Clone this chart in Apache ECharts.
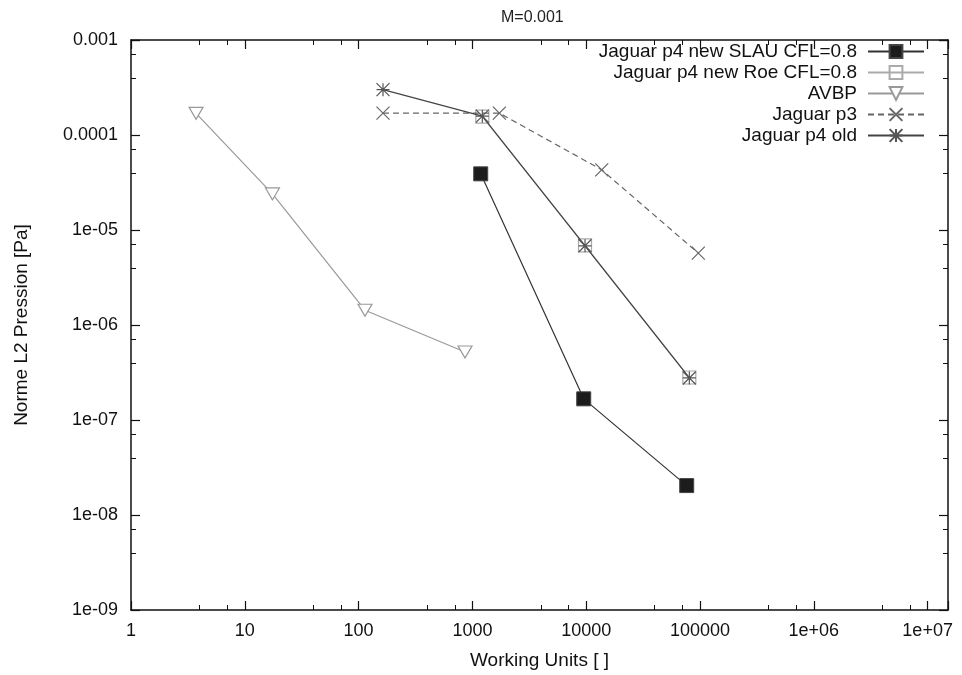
<!DOCTYPE html>
<html>
<head>
<meta charset="utf-8">
<script src="https://cdn.jsdelivr.net/npm/echarts@6/dist/echarts.min.js"></script>
<style>html,body{margin:0;padding:0;background:#fff}#c{width:962px;height:675px}</style>
</head>
<body>
<div id="c"></div>
<script>
// ---- data ----
const seriesNames = ['Jaguar p4 new SLAU CFL=0.8', 'Jaguar p4 new Roe CFL=0.8', 'AVBP', 'Jaguar p3', 'Jaguar p4 old'];
const slauX = [1183, 9508, 76400];
const slauY = [3.9e-5, 1.67e-7, 2.04e-8];
const roeX = [1222, 9758, 80560];
const roeY = [1.56e-4, 6.9e-6, 2.8e-7];
const avbpX = [3.73, 17.5, 113.8, 861];
const avbpY = [1.69e-4, 2.40e-5, 1.43e-6, 5.2e-7];
const p3X = [163.8, 1725, 13680, 96600];
const p3Y = [1.70e-4, 1.70e-4, 4.30e-5, 5.71e-6];
const p4oldX = [163.8, 1222, 9758, 80560];
const p4oldY = [3.0e-4, 1.58e-4, 6.82e-6, 2.77e-7];
const xTickLabels = ['1', '10', '100', '1000', '10000', '100000', '1e+06', '1e+07'];
const yTickLabels = ['1e-09', '1e-08', '1e-07', '1e-06', '1e-05', '0.0001', '0.001'];
const titleText = 'M=0.001';
const xName = 'Working Units [ ]';
const yName = 'Norme L2 Pression [Pa]';

function pairs(xs, ys) { return xs.map((x, i) => [x, ys[i]]); }
function fmt(labels, offset) {
  return function (v) {
    const l = Math.log10(v);
    const e = Math.round(l);
    if (Math.abs(l - e) > 1e-6) return '';
    const s = labels[e + offset];
    return s === undefined ? '' : s;
  };
}

const FONT = 'Liberation Sans, Arial, Helvetica, sans-serif';
const XMIN = 1, XMAX = 1.51e7, YMIN = 1e-9, YMAX = 1e-3;
const axisLineS = { show: true, onZero: false, lineStyle: { color: '#111', width: 1.5 } };
const tickS = { show: true, inside: true, length: 9, lineStyle: { color: '#111', width: 1.2 } };
const minorS = { show: true, splitNumber: 3, length: 5, lineStyle: { color: '#111', width: 1 } };

const X_PATH = 'path://M0,0L10,10M10,0L0,10';
const AST_PATH = 'path://M0,5L10,5M5,0L5,10M0,0L10,10M10,0L0,10';

const chart = echarts.init(document.getElementById('c'), null, { renderer: 'canvas' });
chart.setOption({
  animation: false,
  backgroundColor: '#fff',
  textStyle: { fontFamily: FONT },
  title: {
    text: titleText, left: 496, top: 5,
    textStyle: { fontFamily: FONT, fontSize: 16, fontWeight: 'normal', color: '#222' }
  },
  grid: { left: 131, right: 14, top: 40, bottom: 64, containLabel: false },
  legend: {
    orient: 'vertical', right: 37, top: 42, align: 'right',
    itemWidth: 56, itemHeight: 16, itemGap: 2, padding: 0,
    textStyle: { fontFamily: FONT, fontSize: 19, color: '#111', padding: [0, 6, 0, 0] },
    data: seriesNames
  },
  xAxis: [{
    type: 'log', min: XMIN, max: XMAX, position: 'bottom',
    name: xName, nameLocation: 'middle', nameGap: 41,
    nameTextStyle: { fontFamily: FONT, fontSize: 19, color: '#111' },
    axisLine: axisLineS, axisTick: tickS, minorTick: minorS,
    axisLabel: { fontFamily: FONT, fontSize: 18, color: '#111', margin: 12, showMaxLabel: false, formatter: fmt(xTickLabels, 0) },
    splitLine: { show: false }
  }, {
    type: 'log', min: XMIN, max: XMAX, position: 'top',
    axisLine: axisLineS, axisTick: tickS, minorTick: minorS,
    axisLabel: { show: false }, splitLine: { show: false }
  }],
  yAxis: [{
    type: 'log', min: YMIN, max: YMAX, position: 'left',
    name: yName, nameLocation: 'middle', nameGap: 100, nameRotate: 90,
    nameTextStyle: { fontFamily: FONT, fontSize: 19, color: '#111' },
    axisLine: axisLineS, axisTick: tickS, minorTick: minorS,
    axisLabel: { fontFamily: FONT, fontSize: 18, color: '#111', margin: 13, formatter: fmt(yTickLabels, 9) },
    splitLine: { show: false }
  }, {
    type: 'log', min: YMIN, max: YMAX, position: 'right',
    axisLine: axisLineS, axisTick: tickS, minorTick: minorS,
    axisLabel: { show: false }, splitLine: { show: false }
  }],
  series: [
    {
      name: seriesNames[0], type: 'line', data: pairs(slauX, slauY),
      symbol: 'rect', symbolSize: 14,
      lineStyle: { color: '#333', width: 1.2 },
      itemStyle: { color: '#1c1c1c', borderColor: '#444', borderWidth: 1 },
      z: 5
    },
    {
      name: seriesNames[1], type: 'line', data: pairs(roeX, roeY),
      symbol: 'rect', symbolSize: 13,
      lineStyle: { color: '#aaa', width: 1.2 },
      itemStyle: { color: 'rgba(255,255,255,0)', borderColor: '#aaa', borderWidth: 1.2 },
      z: 3
    },
    {
      name: seriesNames[2], type: 'line', data: pairs(avbpX, avbpY),
      symbol: 'triangle', symbolRotate: 180, symbolSize: [14, 12],
      lineStyle: { color: '#999', width: 1.2 },
      itemStyle: { color: '#fff', borderColor: '#999', borderWidth: 1.2 },
      z: 3
    },
    {
      name: seriesNames[3], type: 'line', data: pairs(p3X, p3Y),
      symbol: X_PATH, symbolSize: 13,
      lineStyle: { color: '#666', width: 1.2, type: [6, 4] },
      itemStyle: { color: 'none', borderColor: '#666', borderWidth: 1.2 },
      z: 4
    },
    {
      name: seriesNames[4], type: 'line', data: pairs(p4oldX, p4oldY),
      symbol: AST_PATH, symbolSize: 13,
      lineStyle: { color: '#444', width: 1.2 },
      itemStyle: { color: 'none', borderColor: '#555', borderWidth: 1.2 },
      z: 4
    }
  ]
});
</script>
</body>
</html>
